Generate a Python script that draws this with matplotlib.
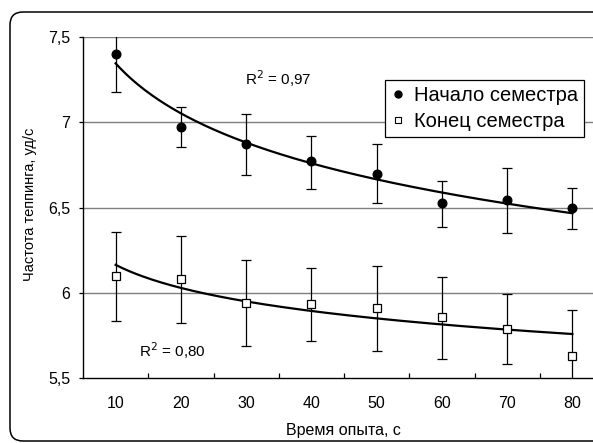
import numpy as np
import matplotlib
matplotlib.use("Agg")
import matplotlib.pyplot as plt
from matplotlib.patches import FancyBboxPatch
from matplotlib.lines import Line2D

plt.rcParams['font.family'] = ['Liberation Sans', 'DejaVu Sans']

times = [10, 20, 30, 40, 50, 60, 70, 80]
start_vals = [7.40, 6.97, 6.875, 6.77, 6.695, 6.525, 6.545, 6.50]
start_hi = [7.52, 7.09, 7.05, 6.92, 6.87, 6.655, 6.73, 6.615]
start_lo = [7.18, 6.855, 6.69, 6.61, 6.525, 6.385, 6.35, 6.375]
end_vals = [6.10, 6.08, 5.94, 5.935, 5.91, 5.855, 5.79, 5.63]
end_hi = [6.355, 6.335, 6.19, 6.145, 6.155, 6.09, 5.99, 5.90]
end_lo = [5.835, 5.825, 5.69, 5.715, 5.66, 5.61, 5.585, 5.36]
yticks = [5.5, 6.0, 6.5, 7.0, 7.5]
ytick_labels = ['5,5', '6', '6,5', '7', '7,5']
r2_start = 'R$^2$ = 0,97'
r2_end = 'R$^2$ = 0,80'
label_start = 'Начало семестра'
label_end = 'Конец семестра'

W, H = 593, 443
fig = plt.figure(figsize=(W / 100, H / 100), dpi=100)

# rounded border
border = FancyBboxPatch((10 / 100, 2 / 100), 6.2, (441 - 12) / 100,
                        boxstyle="round,pad=0,rounding_size=0.13",
                        transform=fig.dpi_scale_trans, fill=False,
                        edgecolor='black', linewidth=1.1)
fig.patches.append(border)

left, right, top, bottom = 83, 605, 37, 378
ax = fig.add_axes([left / W, (H - bottom) / H, (right - left) / W, (bottom - top) / H])

x = np.array(times, dtype=float)

def draw(vals, hi, lo, marker, face):
    vals = np.array(vals); hi = np.array(hi); lo = np.array(lo)
    ax.errorbar(x, vals, yerr=[vals - lo, hi - vals], fmt='none',
                ecolor='black', elinewidth=0.9, capsize=3.6, capthick=0.9, zorder=3)
    ax.plot(x, vals, linestyle='none', marker=marker, markersize=6.3,
            markerfacecolor=face, markeredgecolor='black', markeredgewidth=0.9, zorder=5)
    b, a = np.polyfit(np.log(x), vals, 1)
    xs = np.linspace(x[0], x[-1], 200)
    ax.plot(xs, a + b * np.log(xs), color='black', linewidth=1.6, zorder=4)

draw(start_vals, start_hi, start_lo, 'o', 'black')
draw(end_vals, end_hi, end_lo, 's', 'white')

ax.set_xlim(5, 85)
ax.set_ylim(5.5, 7.5)
ax.set_yticks(yticks)
ax.set_yticklabels(ytick_labels)
ax.set_xticks(times)
ax.set_xticklabels([str(t) for t in times])
ax.set_xticks(np.arange(15, 85, 10), minor=True)
ax.tick_params(axis='x', which='major', length=0, pad=13, labelsize=11.5)
ax.tick_params(axis='x', which='minor', direction='in', length=3.4, width=0.9)
ax.tick_params(axis='y', which='major', direction='out', length=3, width=0.9, pad=6, labelsize=11.5)
for y in yticks[1:]:
    ax.axhline(y, color='#7f7f7f', linewidth=1.0, zorder=1)
for s in ['top', 'right']:
    ax.spines[s].set_visible(False)
ax.spines['left'].set_linewidth(1.0)
ax.spines['bottom'].set_linewidth(1.0)

ax.text(245 / W, 1 - 85 / H, r2_start, transform=fig.transFigure, fontsize=11, va='baseline')
ax.text(139 / W, 1 - 356.7 / H, r2_end, transform=fig.transFigure, fontsize=11, va='baseline')

fig.text(343 / W, 1 - 430 / H, 'Время опыта, с', ha='center', va='center', fontsize=11.5)
fig.text(30 / W, 1 - 204 / H, 'Частота теппинга, уд/с', ha='center', va='center',
         rotation=90, fontsize=10.5)

handles = [Line2D([], [], linestyle='none', marker='o', markersize=5, markerfacecolor='black',
                  markeredgecolor='black'),
           Line2D([], [], linestyle='none', marker='s', markersize=5, markerfacecolor='white',
                  markeredgecolor='black', markeredgewidth=0.8)]
leg = fig.legend(handles, [label_start, label_end], loc='upper left',
                 bbox_to_anchor=(385 / W, 1 - 80 / H), borderaxespad=0,
                 fontsize=14.5, frameon=True, fancybox=False, framealpha=1,
                 edgecolor='black', handlelength=0.7, handletextpad=0.45,
                 borderpad=0.3, labelspacing=0.35)
leg.get_frame().set_linewidth(0.9)

fig.savefig('out.png', dpi=100)
